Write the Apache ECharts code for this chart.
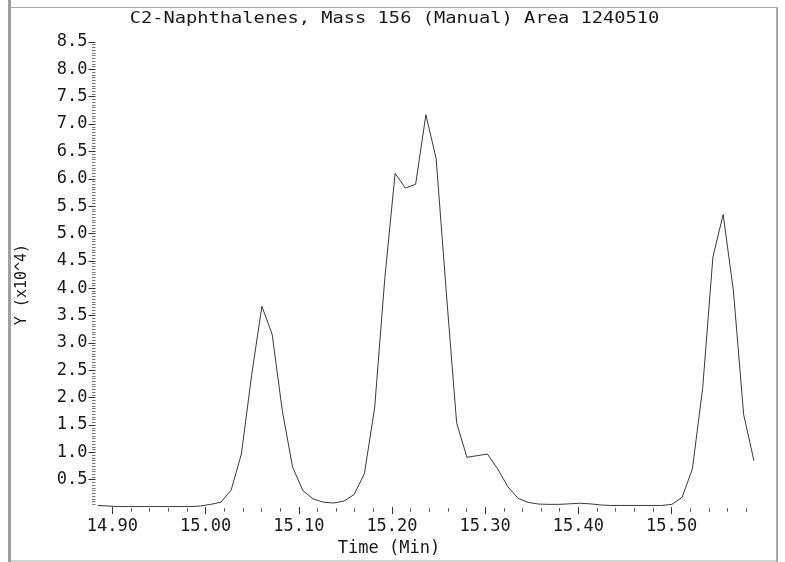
<!DOCTYPE html>
<html><head><meta charset="utf-8">
<script src="https://cdn.jsdelivr.net/npm/echarts@6/dist/echarts.min.js"></script>
<style>html,body{margin:0;padding:0;background:#fff}#c{width:785px;height:562px}</style>
</head><body><div id="c"></div>
<script>
const titleText = 'C2-Naphthalenes, Mass 156 (Manual) Area 1240510';
const xAxisName = 'Time (Min)';
const yAxisName = 'Y (x10^4)';
const xTickLabels = ['14.90','15.00','15.10','15.20','15.30','15.40','15.50'];
const xMinorTicks = [14.92,14.94,14.96,14.98,15.02,15.04,15.06,15.08,15.12,15.14,15.16,15.18,
  15.22,15.24,15.26,15.28,15.32,15.34,15.36,15.38,15.42,15.44,15.46,15.48,15.52,15.54,15.56,15.58];
const yTickLabels = ['0.5','1.0','1.5','2.0','2.5','3.0','3.5','4.0','4.5','5.0','5.5','6.0','6.5','7.0','7.5','8.0','8.5'];
const times = [14.8844,14.8954,14.9064,14.9174,14.9284,14.9394,14.9504,14.9614,14.9724,14.9834,
  14.9944,15.0054,15.0164,15.0274,15.0384,15.0494,15.0604,15.0714,15.0824,15.0934,
  15.1044,15.1154,15.1264,15.1374,15.1484,15.1594,15.1704,15.1814,15.1924,15.2034,
  15.2144,15.2254,15.2364,15.2474,15.2584,15.2694,15.2804,15.2914,15.3024,15.3134,
  15.3244,15.3354,15.3464,15.3574,15.3684,15.3794,15.3904,15.4014,15.4124,15.4234,
  15.4344,15.4454,15.4564,15.4674,15.4784,15.4894,15.5004,15.5114,15.5224,15.5334,
  15.5444,15.5554,15.5664,15.5774,15.5884];
const intensity = [0.03,0.02,0.01,0.01,0.01,0.01,0.01,0.01,0.01,0.01,
  0.02,0.05,0.09,0.31,0.97,2.41,3.67,3.16,1.75,0.73,
  0.30,0.15,0.09,0.075,0.11,0.23,0.61,1.81,4.2,6.10,
  5.83,5.90,7.17,6.37,3.9,1.54,0.91,0.94,0.97,0.70,
  0.37,0.16,0.085,0.055,0.05,0.05,0.06,0.07,0.06,0.04,
  0.03,0.03,0.03,0.03,0.03,0.03,0.05,0.18,0.70,2.17,
  4.57,5.35,3.95,1.69,0.85];

const FONT = 'DejaVu Sans Mono';
const chart = echarts.init(document.getElementById('c'), null, {renderer:'canvas'});
const xMajor = xTickLabels.map(parseFloat);
const yMajor = yTickLabels.map(parseFloat);
chart.setOption({
  animation: false,
  backgroundColor: '#fff',
  grid: {left: 97.5, right: 29.6, top: 42, bottom: 48.25, containLabel: false},
  xAxis: [{
    type: 'value', min: 14.884, max: 15.59, offset: 1,
    axisLine: {show: false}, splitLine: {show: false},
    axisTick: {show: true, customValues: xMajor, length: 7, lineStyle: {color: '#333', width: 1}},
    axisLabel: {show: true, customValues: xMajor, margin: 10, color: '#1a1a1a', fontFamily: FONT, fontSize: 17,
      formatter: v => xTickLabels[xMajor.findIndex(m => Math.abs(m - v) < 1e-6)] || ''},
    name: xAxisName, nameLocation: 'middle', nameGap: 29,
    nameTextStyle: {color: '#1a1a1a', fontFamily: FONT, fontSize: 17, padding: [0, 75, 0, 0]}
  }, {
    type: 'value', min: 14.884, max: 15.59, offset: 1, position: 'bottom',
    axisLine: {show: false}, splitLine: {show: false},
    axisTick: {show: true, customValues: xMinorTicks, length: 3.5, lineStyle: {color: '#555', width: 1}},
    axisLabel: {show: false}
  }],
  yAxis: {
    type: 'value', min: 0, max: 8.5, interval: 0.5, offset: 2,
    axisLine: {show: false}, splitLine: {show: false},
    axisTick: {show: true, customValues: yMajor, length: 7, lineStyle: {color: '#333', width: 1}},
    minorTick: {show: true, splitNumber: 10, length: 3.5, lineStyle: {color: '#777', width: 1}},
    minorSplitLine: {show: false},
    axisLabel: {show: true, customValues: yMajor, margin: 8, color: '#1a1a1a', fontFamily: FONT, fontSize: 17,
      formatter: v => yTickLabels[yMajor.findIndex(m => Math.abs(m - v) < 1e-6)] || ''},
    name: yAxisName, nameLocation: 'middle', nameGap: 66,
    nameTextStyle: {color: '#1a1a1a', fontFamily: FONT, fontSize: 15, padding: [0, 20, 0, 0]}
  },
  series: [{
    type: 'line', xAxisIndex: 0, yAxisIndex: 0,
    data: times.map((t, i) => [t, intensity[i]]),
    showSymbol: false, symbol: 'none',
    lineStyle: {color: '#3a3a3a', width: 1}
  }],
  graphic: [
    {type: 'rect', silent: true, shape: {x: 8, y: 0, width: 3, height: 562}, style: {fill: '#a0a0a0'}},
    {type: 'line', silent: true, shape: {x1: 11, y1: 7.5, x2: 778, y2: 7.5}, style: {stroke: '#a8a8a8', lineWidth: 1}},
    {type: 'line', silent: true, shape: {x1: 777, y1: 7, x2: 777, y2: 562}, style: {stroke: '#a8a8a8', lineWidth: 2}},
    {type: 'line', silent: true, shape: {x1: 11, y1: 561, x2: 778, y2: 561}, style: {stroke: '#a8a8a8', lineWidth: 1}},
    {type: 'text', silent: true, x: 394.5, y: 18.5, scaleX: 1.17, scaleY: 1,
      style: {text: titleText, font: '16px "' + FONT + '"', fill: '#1a1a1a', textAlign: 'center', textVerticalAlign: 'middle'}}
  ]
});
</script></body></html>
